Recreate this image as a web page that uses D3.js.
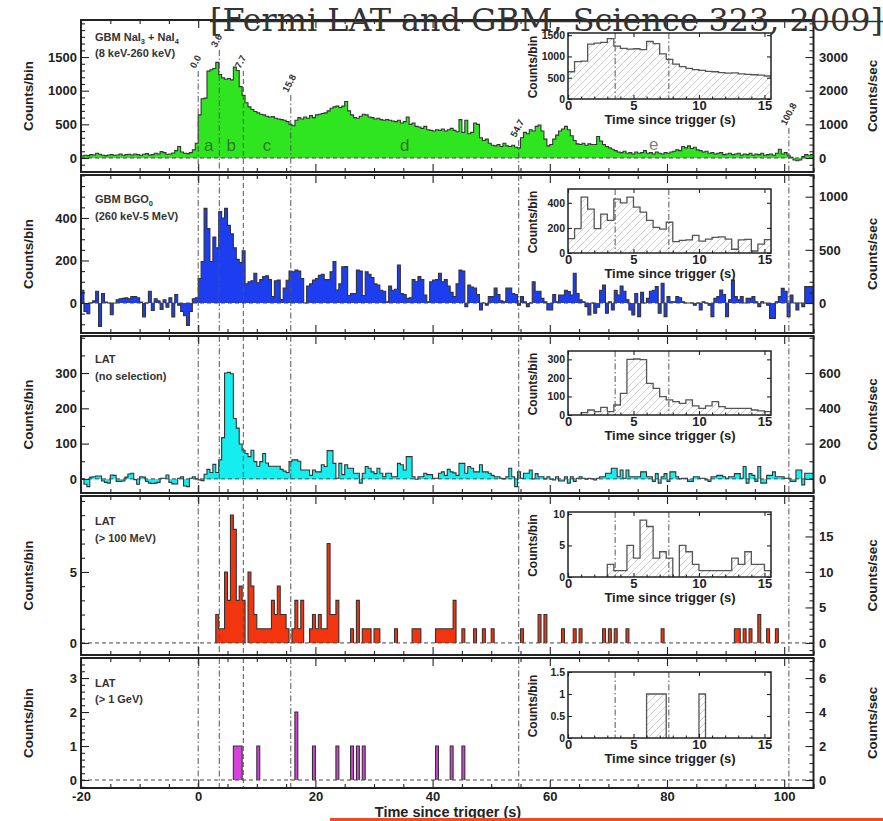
<!DOCTYPE html>
<html>
<head>
<meta charset="utf-8">
<script src="https://cdn.jsdelivr.net/npm/d3@7"></script>
<style>
  html, body { margin: 0; padding: 0; background: #fff; }
  svg { display: block; }
</style>
</head>
<body>
<svg id="chart" width="883" height="821"></svg>
<script>
// ---------------------------------------------------------------
// Binning shared by every light curve
// ---------------------------------------------------------------
const binStart = -20;   // s, left edge of the first bin
const binWidth = 0.5;   // s

// GBM NaI3 + NaI4 (8 keV-260 keV), counts per bin
const naiCounts = [
  30, 40, 35, 50, 45, 70, 55, 40, 35, 45,
  50, 40, 45, 60, 40, 50, 55, 45, 60, 50,
  40, 55, 65, 45, 50, 70, 60, 95, 80, 55,
  60, 75, 110, 170, 90, 70, 65, 80, 120, 220,
  // t = 0 s
  640, 880, 890, 1290, 1310, 1330, 1420, 1240, 1190, 1170,
  1180, 1160, 1350, 1300, 1060, 930, 820, 760, 720, 690,
  670, 650, 640, 620, 610, 615, 590, 580, 570, 560,
  540, 500,
  // t = 16 s
  480, 560, 600, 580, 610, 590, 630, 600, 640, 650,
  660, 670, 700, 740, 760, 770, 750, 770, 840, 700,
  640, 600, 590, 620, 650, 640, 610, 600, 580, 590,
  570, 560, 570, 560, 550, 540, 560, 520, 540, 610,
  500, 520, 470, 460, 440, 470, 420, 410, 400, 420,
  // t = 41 s
  410, 430, 400, 420, 440, 410, 390, 570, 380, 560,
  360, 380, 520, 500, 300, 260, 280, 220, 190, 180,
  200, 170, 220, 180, 170, 190, 160, 150, 300, 380,
  360, 420, 400, 470, 490, 400, 280, 180, 200, 280,
  340, 400, 430, 470, 420, 330, 260, 210, 200, 220,
  190, 210, 200, 200, 320, 250, 200, 170, 150, 130,
  110, 90, 80, 100, 70, 80, 60, 90, 70, 80,
  110, 70, 80, 60, 90, 70, 60, 80, 70, 90,
  100, 120, 110, 170, 150, 180, 140, 160, 120, 110,
  90, 100, 70, 80, 60, 70, 80, 50, 60, 70,
  50, 60, 70, 40, 60, 50, 70, 40, 60, 50,
  70, 40, 50, 60, 40, 70, 130, 60, 80, 40,
  10, -30, -40, -30, 20, 50, 40, 50
];

// GBM BGO0 (260 keV-5 MeV), background-subtracted counts per bin
const bgoCounts = [
  60, -40, -50, 0, 10, 55, -110, 45, 5, 0,
  -55, 0, 15, 20, 22, 25, 20, 30, 30, 25,
  5, -65, 0, 55, -35, 20, 10, -30, 15, -20,
  25, -65, 40, -10, -40, -60, -105, -40, 20, 25,
  // t = 0 s
  115, 195, 445, 350, 195, 310, 260, 430, 400, 445,
  365, 325, 260, 205, 190, 245, 90, 100, 105, 140,
  95, 110, 125, 128, 110, 30, 105, 108, 16, 70,
  107, 150,
  // t = 16 s
  147, 155, 150, 115, 0, 80, 90, 108, 115, 130,
  135, 110,
  110, 147, 195, 61, 90, 170, 171, 35, 45, 45,
  155, 150, 35, 147, 135, 120, 90, 85, 60, 55,
  6, 80, 60, 65, 179, 45, 40, 22, 25, 110,
  100, 124, 110, 38, 6, 100, 108, 110,
  // t = 41 s
  140, 100, 110, 80, 50, 30, 90, 155, 150, -17,
  85, 75, 70, 40, -33, 0, -10, 30, 30, 70,
  40, 10, 6, 70, 70, 45, 40, -10, 30, 6,
  -17, 0, 100, 55, 55, 22, 6, -33, -33, 40,
  6, 38, 38, 60, 54, 38, 140, 45, 15, 6,
  -17, -56, 0, -48, -20, 60, 85, -48, 6, -33,
  60, 38, 80, 55, 15, -33, -56, 45, -64, 50,
  0, 22, 55, 60, 77, -48, 93, -64, 30, 6,
  6, 30, 25, 6, 0, 0, 0, -10, 0, -33,
  6, 0, -10, -64, 22, 30, 61, 40, -64, 15,
  108, 30, 15, 30, 0, 22, 22, 30, 6, -17,
  6, 0, -10, -72, -72, 6, 30, 69, 55, -64,
  38, 0, -33, 0, -17, 77, 77, 77
];

// LAT, no event selection, background-subtracted counts per bin
const latAllCounts = [
  0, -15, -22, 5, 6, 8, 8, -6, -10, -12,
  11, 10, -7, -7, -6, 5, 14, 16, -2, -15,
  6, 5, -7, -12, -13, -12, -10, 2, 2, 11,
  -10, -14, -14, 2, 6, -20, -22, 2, 6, 0,
  // t = 0 s
  -3, -5, 13, 27, 18, 41, 18, 54, 117, 300,
  302, 298, 171, 144, 99, 81, 72, 63, 81, 49,
  36, 49, 72, 45, 36, 36, 36, 36, 27, 22,
  18, 49,
  // t = 16 s
  54, 54, 50, 25, 25, 25, 10, 25, 20, 20,
  40, 35, 80, 80, 44, 2, 44, 12, 40, 30,
  30, 16, 16, -12, 16, 35, 30, 20, 15, 30,
  16, 6, 16, 16, 6, 6, 44, 40, 25, 63,
  63, 6, -1, 6, 6, 16, 12, 12, 2, 2,
  // t = 41 s
  16, 20, 10, 27, 20, 17, 10, 44, 44, 16,
  35, 30, 20, 20, 40, 20, 20, 16, 10, 6,
  6, 2, 0, 6, 30, 6, -22, 20, 2, 16,
  16, 25, 0, 15, 6, 6, 0, 6, -1, -3,
  6, -6, -6, 6, -12, 6, -7, 2, 6, 2,
  -1, 2, 0, -3, 2, 6, 6, 16, 16, 30,
  30, 6, 25, 2, 25, 6, 6, 6, 6, 20,
  20, 6, 6, -7, 15, -12, 6, 15, -7, 20,
  20, 6, 0, 2, 2, -7, -7, 6, 6, 2,
  2, -3, -7, 6, 6, 10, 10, 6, 2, 6,
  6, 15, 15, 2, 35, -12, 15, 10, -7, 35,
  -12, -12, 10, 10, 20, 6, 6, 6, 2, 2,
  -7, -7, 25, 25, -17, 16, 16, 16
];

// LAT > 100 MeV: left edge of every non-empty bin and its counts
const lat100Times = [
  3, 3.5, 4, 4.5, 5, 5.5, 6, 6.5, 7, 7.5,
  8.5, 9, 9.5, 10, 10.5, 11, 11.5, 12, 12.5, 13,
  13.5, 14, 14.5, 15, 16, 16.5, 17, 17.5, 19, 19.5,
  20, 20.5, 21, 21.5, 22, 22.5, 23, 23.5, 26, 27,
  28, 28.5, 29, 30, 30.5, 33.5, 36.5, 37, 37.5, 40.5,
  41, 41.5, 42, 42.5, 43, 43.5, 45, 47, 48.5, 50,
  55, 58, 59, 62, 64, 65, 69, 70, 71, 73,
  79, 91.5, 92, 93, 94, 95.5, 97, 98.5
];
const lat100Counts = [
  2, 1, 1, 5, 3, 9, 8, 3, 4, 3,
  5, 4, 2, 1, 1, 1, 1, 1, 3, 2,
  4, 2, 2, 1, 1, 3, 1, 3, 1, 2,
  1, 2, 1, 1, 7, 2, 2, 3, 1, 3,
  1, 1, 1, 1, 1, 1, 1, 1, 1, 1,
  1, 1, 1, 1, 1, 3, 1, 1, 1, 1,
  1, 2, 2, 1, 1, 1, 1, 1, 1, 1,
  1, 1, 1, 1, 1, 2, 1, 1
];

// LAT > 1 GeV: left edge of every non-empty bin and its counts
const lat1GeVTimes  = [6, 6.5, 7, 10, 16.5, 19.5, 23.5, 26, 27, 28, 40.5, 43, 45];
const lat1GeVCounts = [1, 1, 1, 1, 2, 1, 1, 1, 1, 1, 1, 1, 1];

// Interval boundaries (s) and interval names
const markerTimes  = [0, 3.6, 7.7, 15.8, 54.7, 100.8];
const markerLabels = ["0.0", "3.6", "7.7", "15.8", "54.7", "100.8"];
const intervalNames = ["a", "b", "c", "d", "e"];
const insetMarkerTimes = [3.6, 7.7];

// Axis tick values
const xMajorTicks = [-20, 0, 20, 40, 60, 80, 100];
const insetXTicks = [0, 5, 10, 15];

// ---------------------------------------------------------------
// Layout
// ---------------------------------------------------------------
const FONT = '"Liberation Sans", Arial, Helvetica, sans-serif';
const X0 = 81, X1 = 813.5;
const INSET_X0 = 568, INSET_X1 = 771;
const markerLabelY = [69, 48, 69, 93, 138, 126];
const DASH_DOT = "6,2.5,1.5,2.5", DASHED = "5,3";
const markerDash = [DASH_DOT, DASH_DOT, DASHED, DASH_DOT, DASH_DOT, DASH_DOT];
const plainNumber = d => String(d);

const nBins = naiCounts.length;
function expand(times, counts) {
  const arr = new Array(nBins).fill(0);
  times.forEach((t, k) => { arr[Math.round((t - binStart) / binWidth)] = counts[k]; });
  return arr;
}

const panels = [
  { values: naiCounts, color: "#2ee51f",
    title: [[["GBM NaI"], ["3", 1], [" + NaI"], ["4", 1]], [["(8 keV-260 keV)"]]],
    top: 20, bottom: 172, labelY: 40.5, yDomain: [-208, 2050],
    leftTicks: [0, 500, 1000, 1500], leftMinor: 100, rightTicks: [0, 1000, 2000, 3000], rightMinor: 200,
    inset: { top: 33, bottom: 99, yDomain: [0, 1550], ticks: [0, 500, 1000, 1500] } },
  { values: bgoCounts, color: "#1c3ef0",
    title: [[["GBM BGO"], ["0", 1]], [["(260 keV-5 MeV)"]]],
    top: 175, bottom: 333, labelY: 203, yDomain: [-141, 602],
    leftTicks: [0, 200, 400], leftMinor: 50, rightTicks: [0, 500, 1000], rightMinor: 100,
    inset: { top: 189, bottom: 253, yDomain: [0, 510], ticks: [0, 200, 400] } },
  { values: latAllCounts, color: "#15eeee",
    title: [[["LAT"]], [["(no selection)"]]],
    top: 336, bottom: 493, labelY: 363, yDomain: [-40, 405],
    leftTicks: [0, 100, 200, 300], leftMinor: 50, rightTicks: [0, 200, 400, 600], rightMinor: 100,
    inset: { top: 351, bottom: 415, yDomain: [0, 345], ticks: [0, 100, 200, 300] } },
  { values: expand(lat100Times, lat100Counts), sparse: true, color: "#f2340f",
    title: [[["LAT"]], [["(> 100 MeV)"]]],
    top: 496, bottom: 655, labelY: 525, yDomain: [-0.85, 10.35],
    leftTicks: [0, 5], leftMinor: 1, rightTicks: [0, 5, 10, 15], rightMinor: 1,
    inset: { top: 512, bottom: 577, yDomain: [0, 10.3], ticks: [0, 5, 10] } },
  { values: expand(lat1GeVTimes, lat1GeVCounts), sparse: true, color: "#d541da",
    title: [[["LAT"]], [["(> 1 GeV)"]]],
    top: 658, bottom: 788, labelY: 686.5, yDomain: [-0.235, 3.59],
    leftTicks: [0, 1, 2, 3], leftMinor: 0.2, rightTicks: [0, 2, 4, 6], rightMinor: 0.5,
    inset: { top: 672, bottom: 738, yDomain: [0, 1.5], ticks: [0, 0.5, 1, 1.5] } }
];

// ---------------------------------------------------------------
// Helpers
// ---------------------------------------------------------------
function minorValues(domain, step, majors) {
  const out = [];
  const a = Math.ceil(domain[0] / step - 1e-9), b = Math.floor(domain[1] / step + 1e-9);
  for (let k = a; k <= b; k++) {
    const v = +(k * step).toFixed(6);
    if (!majors.some(m => Math.abs(m - v) < 1e-9)) out.push(v);
  }
  return out;
}

function styleAxis(sel, size) {
  sel.attr("font-family", FONT).attr("font-size", size).attr("font-weight", "bold").attr("color", "#222");
  sel.select(".domain").remove();
  sel.selectAll(".tick line").attr("stroke-width", 1.1);
}

// contiguous runs of non-empty bins
function runsOf(vals) {
  const out = []; let cur = null;
  vals.forEach((v, k) => {
    if (v) { if (!cur) { cur = { start: k, vals: [] }; out.push(cur); } cur.vals.push(v); }
    else cur = null;
  });
  return out;
}
function runPath(r, tOrigin, xs, ys) {
  let t = tOrigin + r.start * binWidth;
  let d = `M${xs(t)},${ys(0)}`;
  r.vals.forEach(v => { t += binWidth; d += `V${ys(v)}H${xs(t)}`; });
  return d + `V${ys(0)}`;
}

// histogram drawn as a filled step curve
function drawHistogram(g, vals, tOrigin, sparse, xs, ys, fill, stroke, sw) {
  if (sparse) {
    g.selectAll(null).data(runsOf(vals)).join("path")
      .attr("d", r => runPath(r, tOrigin, xs, ys))
      .attr("fill", fill).attr("stroke", stroke).attr("stroke-width", sw);
    return;
  }
  const pts = vals.map((v, k) => ({ t: tOrigin + k * binWidth, v }));
  pts.push({ t: tOrigin + vals.length * binWidth, v: vals[vals.length - 1] });
  const area = d3.area().curve(d3.curveStepAfter).x(d => xs(d.t)).y0(ys(0)).y1(d => ys(d.v));
  const line = d3.line().curve(d3.curveStepAfter).x(d => xs(d.t)).y(d => ys(d.v));
  g.append("path").datum(pts).attr("d", area).attr("fill", fill);
  g.append("path").datum(pts).attr("d", line).attr("fill", "none")
    .attr("stroke", stroke).attr("stroke-width", sw).attr("stroke-linejoin", "miter");
}

// ---------------------------------------------------------------
// Drawing
// ---------------------------------------------------------------
const svg = d3.select("#chart");
svg.append("rect").attr("width", 883).attr("height", 821).attr("fill", "#fff");
const defs = svg.append("defs");
const hatch = defs.append("pattern").attr("id", "hatch")
  .attr("patternUnits", "userSpaceOnUse").attr("width", 7).attr("height", 7);
hatch.append("path").attr("d", "M0,7L7,0M-1,1L1,-1M6,8L8,6")
  .attr("stroke", "#c9c9c9").attr("stroke-width", 0.9);

const x = d3.scaleLinear().domain([-20, 105]).range([X0, X1]);
const xi = d3.scaleLinear().domain([0, 15.5]).range([INSET_X0, INSET_X1]);
const xMinorTicks = minorValues(x.domain(), 5, xMajorTicks);
const i0 = Math.round((0 - binStart) / binWidth);
const i1 = i0 + Math.round(15.5 / binWidth);

panels.forEach((p, pi) => {
  const g = svg.append("g");
  const y = d3.scaleLinear().domain(p.yDomain).range([p.bottom, p.top]);
  const yR = d3.scaleLinear().domain(p.yDomain.map(v => v / binWidth)).range([p.bottom, p.top]);
  const isLast = pi === panels.length - 1;

  defs.append("clipPath").attr("id", "clip" + pi).append("rect")
    .attr("x", X0).attr("y", p.top).attr("width", X1 - X0).attr("height", p.bottom - p.top);
  const dg = g.append("g").attr("clip-path", `url(#clip${pi})`);

  drawHistogram(dg, p.values, binStart, p.sparse, x, y, p.color, "#333", 1.1);

  // zero level
  dg.append("line").attr("x1", X0).attr("x2", X1).attr("y1", y(0)).attr("y2", y(0))
    .attr("stroke", "#444").attr("stroke-width", 1).attr("stroke-dasharray", "4,3");

  // interval boundaries
  markerTimes.forEach((t, k) => {
    dg.append("line").attr("x1", x(t)).attr("x2", x(t))
      .attr("y1", pi === 0 ? markerLabelY[k] + 2 : p.top).attr("y2", p.bottom)
      .attr("stroke", "#555").attr("stroke-width", 1).attr("stroke-dasharray", markerDash[k]);
  });

  if (pi === 0) {
    markerTimes.forEach((t, k) => {
      g.append("text")
        .attr("transform", `translate(${x(t) - 3},${markerLabelY[k]}) rotate(-62)`)
        .attr("font-family", FONT).attr("font-size", 9.5).attr("font-weight", "bold")
        .attr("fill", "#333").text(markerLabels[k]);
    });
    intervalNames.forEach((n, k) => {
      const tm = (markerTimes[k] + markerTimes[k + 1]) / 2;
      g.append("text").attr("x", x(tm)).attr("y", k === 4 ? 150 : 151)
        .attr("text-anchor", "middle").attr("font-family", FONT).attr("font-size", 17)
        .attr("fill", "#333").attr("fill-opacity", 0.65).text(n);
    });
  }

  // panel frame
  g.append("rect").attr("x", X0).attr("y", p.top).attr("width", X1 - X0).attr("height", p.bottom - p.top)
    .attr("fill", "none").attr("stroke", "#222").attr("stroke-width", 2);

  // left axis (counts/bin)
  g.append("g").attr("transform", `translate(${X0},0)`)
    .call(d3.axisLeft(y).tickValues(p.leftTicks).tickSize(-8).tickPadding(4).tickFormat(plainNumber))
    .call(s => styleAxis(s, 13));
  g.append("g").attr("transform", `translate(${X0},0)`)
    .call(d3.axisLeft(y).tickValues(minorValues(p.yDomain, p.leftMinor, p.leftTicks)).tickSize(-4).tickFormat(""))
    .call(s => styleAxis(s, 13));

  // right axis (counts/sec)
  g.append("g").attr("transform", `translate(${X1},0)`)
    .call(d3.axisRight(yR).tickValues(p.rightTicks).tickSize(-8).tickPadding(5.5).tickFormat(plainNumber))
    .call(s => styleAxis(s, 13));
  g.append("g").attr("transform", `translate(${X1},0)`)
    .call(d3.axisRight(yR).tickValues(minorValues(yR.domain(), p.rightMinor, p.rightTicks)).tickSize(-4).tickFormat(""))
    .call(s => styleAxis(s, 13));

  // time axes on top and bottom edges
  g.append("g").attr("transform", `translate(0,${p.top})`)
    .call(d3.axisTop(x).tickValues(xMajorTicks).tickSize(-8).tickFormat(""))
    .call(s => styleAxis(s, 13));
  g.append("g").attr("transform", `translate(0,${p.top})`)
    .call(d3.axisTop(x).tickValues(xMinorTicks).tickSize(-4).tickFormat(""))
    .call(s => styleAxis(s, 13));
  g.append("g").attr("transform", `translate(0,${p.bottom})`)
    .call(d3.axisBottom(x).tickValues(xMajorTicks).tickSize(-8).tickPadding(3.5)
      .tickFormat(isLast ? plainNumber : ""))
    .call(s => styleAxis(s, 13));
  g.append("g").attr("transform", `translate(0,${p.bottom})`)
    .call(d3.axisBottom(x).tickValues(xMinorTicks).tickSize(-4).tickFormat(""))
    .call(s => styleAxis(s, 13));

  // axis titles
  const mid = (p.top + p.bottom) / 2;
  g.append("text").attr("transform", `translate(33,${mid}) rotate(-90)`)
    .attr("text-anchor", "middle").attr("font-family", FONT).attr("font-size", 13.4)
    .attr("font-weight", "bold").attr("fill", "#222").text("Counts/bin");
  g.append("text").attr("transform", `translate(877,${mid}) rotate(-90)`)
    .attr("text-anchor", "middle").attr("font-family", FONT).attr("font-size", 13.4)
    .attr("font-weight", "bold").attr("fill", "#222").text("Counts/sec");

  // detector / energy band
  p.title.forEach((lineParts, li) => {
    const t = g.append("text").attr("x", 95).attr("y", p.labelY + li * 16.5)
      .attr("font-family", FONT).attr("font-size", 11).attr("font-weight", "bold").attr("fill", "#333");
    let shifted = false;
    lineParts.forEach(([s, sub]) => {
      const ts = t.append("tspan").text(s);
      if (sub && !shifted) { ts.attr("dy", 3).attr("font-size", 7.5); shifted = true; }
      else if (!sub && shifted) { ts.attr("dy", -3); shifted = false; }
      else if (sub) ts.attr("font-size", 7.5);
    });
  });

  // ---- inset: first 15.5 s ----
  const ins = p.inset;
  const yi = d3.scaleLinear().domain(ins.yDomain).range([ins.bottom, ins.top]);
  const ig = g.append("g");
  ig.append("rect").attr("x", INSET_X0).attr("y", ins.top)
    .attr("width", INSET_X1 - INSET_X0).attr("height", ins.bottom - ins.top).attr("fill", "#fff");
  defs.append("clipPath").attr("id", "iclip" + pi).append("rect")
    .attr("x", INSET_X0).attr("y", ins.top).attr("width", INSET_X1 - INSET_X0).attr("height", ins.bottom - ins.top);
  const idg = ig.append("g").attr("clip-path", `url(#iclip${pi})`);
  drawHistogram(idg, p.values.slice(i0, i1), 0, p.sparse, xi, yi, "url(#hatch)", "#555", 1.3);
  insetMarkerTimes.forEach(t => {
    idg.append("line").attr("x1", xi(t)).attr("x2", xi(t)).attr("y1", ins.top).attr("y2", ins.bottom)
      .attr("stroke", "#555").attr("stroke-width", 1).attr("stroke-dasharray", DASH_DOT);
  });
  ig.append("rect").attr("x", INSET_X0).attr("y", ins.top)
    .attr("width", INSET_X1 - INSET_X0).attr("height", ins.bottom - ins.top)
    .attr("fill", "none").attr("stroke", "#222").attr("stroke-width", 1.5);

  ig.append("g").attr("transform", `translate(${INSET_X0},0)`)
    .call(d3.axisLeft(yi).tickValues(ins.ticks).tickSize(-4).tickPadding(3).tickFormat(plainNumber))
    .call(s => styleAxis(s, 10.5));
  ig.append("g").attr("transform", `translate(${INSET_X1},0)`)
    .call(d3.axisRight(yi).tickValues(ins.ticks).tickSize(-4).tickFormat(""))
    .call(s => styleAxis(s, 10.5));
  ig.append("g").attr("transform", `translate(0,${ins.bottom})`)
    .call(d3.axisBottom(xi).tickValues(insetXTicks).tickSize(-4).tickPadding(2).tickFormat(plainNumber))
    .call(s => styleAxis(s, 13));
  ig.append("g").attr("transform", `translate(0,${ins.bottom})`)
    .call(d3.axisBottom(xi).tickValues(minorValues(xi.domain(), 1, insetXTicks)).tickSize(-2.5).tickFormat(""))
    .call(s => styleAxis(s, 13));
  ig.append("g").attr("transform", `translate(0,${ins.top})`)
    .call(d3.axisTop(xi).tickValues(insetXTicks).tickSize(-4).tickFormat(""))
    .call(s => styleAxis(s, 13));

  ig.append("text").attr("x", (INSET_X0 + INSET_X1) / 2 + 0.5).attr("y", ins.bottom + 25)
    .attr("text-anchor", "middle").attr("font-family", FONT).attr("font-size", 13)
    .attr("font-weight", "bold").attr("fill", "#222").text("Time since trigger (s)");
  ig.append("text").attr("transform", `translate(537,${(ins.top + ins.bottom) / 2 + 1}) rotate(-90)`)
    .attr("text-anchor", "middle").attr("font-family", FONT).attr("font-size", 12)
    .attr("font-weight", "bold").attr("fill", "#222").text("Counts/bin");
});

// common time-axis title
svg.append("text").attr("x", 448).attr("y", 816.5).attr("text-anchor", "middle")
  .attr("font-family", FONT).attr("font-size", 14.5).attr("font-weight", "bold")
  .attr("fill", "#222").text("Time since trigger (s)");

// citation heading
svg.append("line").attr("x1", 210).attr("x2", 883).attr("y1", 21.5).attr("y2", 21.5)
  .attr("stroke", "#333").attr("stroke-width", 1.4);
svg.append("text").attr("x", 210).attr("y", 31)
  .attr("font-family", '"DejaVu Serif", "Liberation Serif", serif').attr("font-size", 32)
  .attr("fill", "#333").attr("textLength", 673).attr("lengthAdjust", "spacingAndGlyphs")
  .text("[Fermi LAT and GBM, Science 323, 2009]");

// accent rule along the bottom edge
svg.append("rect").attr("x", 330).attr("y", 818).attr("width", 553).attr("height", 3).attr("fill", "#ef4b26");
</script>
</body>
</html>
